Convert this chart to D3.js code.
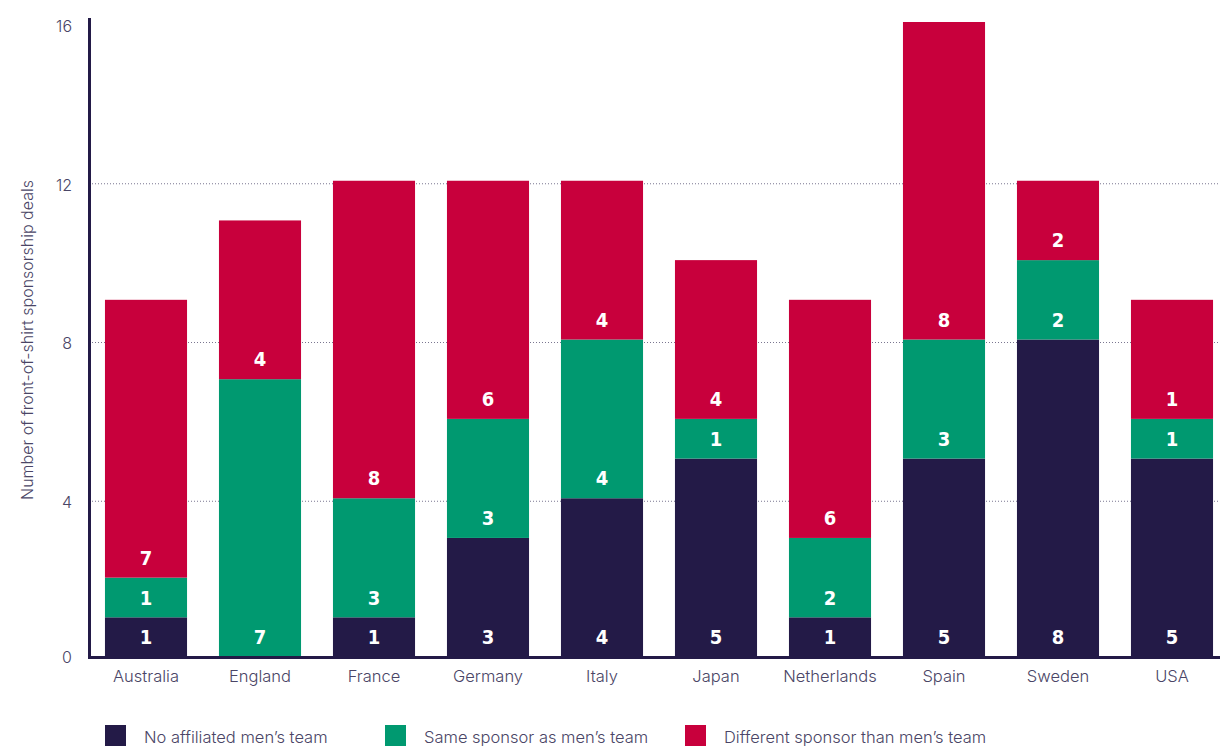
<!DOCTYPE html>
<html>
<head>
<meta charset="utf-8">
<script src="https://cdn.jsdelivr.net/npm/d3@7"></script>
<style>
	body { margin: 0; background: #fff; }
	svg { display: block; }
	.tick-label { font-family: "Inter", "Roboto", sans-serif; font-weight: 300; fill: #4a4566; }
	.seg-label { font-family: "DejaVu Sans Condensed", "Liberation Sans Narrow", "DejaVu Sans", sans-serif; font-weight: bold; fill: #fff; }
</style>
</head>
<body>
<svg id="chart"></svg>
<script>
/*
 *  Front-of-shirt sponsorship deals per country, stacked by sponsor type.
 */

const WIDTH = 1220, HEIGHT = 746;

const countries = ['Australia', 'England', 'France', 'Germany', 'Italy', 'Japan', 'Netherlands', 'Spain', 'Sweden', 'USA'];
const noAffiliated = [1, 0, 1, 3, 4, 5, 1, 5, 8, 5];
const sameSponsor = [1, 7, 3, 3, 4, 1, 2, 3, 2, 1];
const differentSponsor = [7, 4, 8, 6, 4, 4, 6, 8, 2, 3];
// the printed label on the USA red segment reads 1 even though the bar is 3 tall
const differentLabels = [7, 4, 8, 6, 4, 4, 6, 8, 2, 1];
const yTicks = [0, 4, 8, 12, 16];

const seriesNames = ['No affiliated men\u2019s team', 'Same sponsor as men\u2019s team', 'Different sponsor than men\u2019s team'];
const seriesColors = ['#231a47', '#009970', '#c8003c'];

const svg = d3.select('svg#chart').attr('width', WIDTH).attr('height', HEIGHT);

const x = d3.scaleBand()
	.domain(countries)
	.range([89, 1229])
	.paddingInner(0.28)
	.paddingOuter(0.14);

const y = d3.scaleLinear().domain([0, 16]).range([657, 22]);

// build stack rows
const rows = countries.map((c, i) => ({
	country: c,
	s0: noAffiliated[i],
	s1: sameSponsor[i],
	s2: differentSponsor[i],
	labels: [noAffiliated[i], sameSponsor[i], differentLabels[i]]
}));
const stacked = d3.stack().keys(['s0', 's1', 's2'])(rows);

// gridlines
svg.append('g').selectAll('line.grid')
	.data(yTicks.filter(t => t > 0 && t < 16))
	.enter().append('line')
	.attr('class', 'grid')
	.attr('x1', 92).attr('x2', WIDTH)
	.attr('y1', d => y(d) + 3).attr('y2', d => y(d) + 3)
	.attr('stroke', '#7a7690')
	.attr('stroke-width', 1)
	.attr('stroke-dasharray', '1,2');

// bars
const layer = svg.append('g').selectAll('g.series')
	.data(stacked)
	.enter().append('g')
	.attr('class', 'series')
	.attr('fill', (d, i) => seriesColors[i]);

layer.selectAll('rect')
	.data(d => d)
	.enter().append('rect')
	.attr('x', d => x(d.data.country))
	.attr('width', x.bandwidth())
	.attr('y', d => y(d[1]))
	.attr('height', d => y(d[0]) - y(d[1]));

// segment labels, placed near the bottom of each segment
stacked.forEach((s, si) => {
	svg.append('g').selectAll('text')
		.data(s.filter(d => d[1] - d[0] > 0))
		.enter().append('text')
		.attr('class', 'seg-label')
		.attr('x', d => x(d.data.country) + x.bandwidth() / 2)
		.attr('y', d => y(d[0]) - 20)
		.attr('dy', '0.36em')
		.attr('text-anchor', 'middle')
		.attr('font-size', '20px')
		.text(d => d.data.labels[si]);
});

// axes
svg.append('line')
	.attr('x1', 89.5).attr('x2', 89.5)
	.attr('y1', 18).attr('y2', 659)
	.attr('stroke', '#231a47').attr('stroke-width', 3);
svg.append('line')
	.attr('x1', 88).attr('x2', WIDTH)
	.attr('y1', 657.5).attr('y2', 657.5)
	.attr('stroke', '#231a47').attr('stroke-width', 3);

svg.append('g').selectAll('text')
	.data(yTicks)
	.enter().append('text')
	.attr('class', 'tick-label')
	.attr('x', 72)
	.attr('y', d => y(d) + (d ? 4 : 0))
	.attr('dy', '0.36em')
	.attr('text-anchor', 'end')
	.attr('font-size', '16px')
	.text(d => d);

svg.append('g').selectAll('text')
	.data(countries)
	.enter().append('text')
	.attr('class', 'tick-label')
	.attr('x', d => x(d) + x.bandwidth() / 2)
	.attr('y', 682)
	.attr('text-anchor', 'middle')
	.attr('font-size', '16.5px')
	.text(d => d);

svg.append('text')
	.attr('class', 'tick-label')
	.attr('transform', 'translate(33,340) rotate(-90)')
	.attr('text-anchor', 'middle')
	.attr('font-size', '16px')
	.text('Number of front-of-shirt sponsorship deals');

// legend
const legendX = [105, 385, 685];
const legend = svg.append('g').selectAll('g.legend')
	.data(seriesNames)
	.enter().append('g')
	.attr('class', 'legend')
	.attr('transform', (d, i) => `translate(${legendX[i]},725)`);
legend.append('rect')
	.attr('width', 21).attr('height', 22)
	.attr('fill', (d, i) => seriesColors[i]);
legend.append('text')
	.attr('class', 'tick-label')
	.attr('x', 39)
	.attr('y', 18)
	.attr('font-size', '16.5px')
	.attr('font-weight', 400)
	.text(d => d);
</script>
</body>
</html>
